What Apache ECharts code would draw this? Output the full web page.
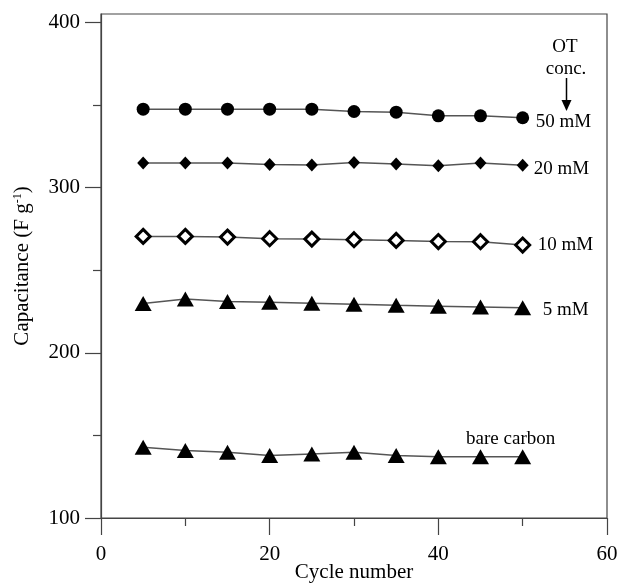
<!DOCTYPE html>
<html>
<head>
<meta charset="utf-8">
<script src="https://cdn.jsdelivr.net/npm/echarts@6/dist/echarts.min.js"></script>
</head>
<body style="margin:0">
<div id="main" style="width:618px;height:583px"></div>
<script>
// cycle numbers
var cycles = [5, 10, 15, 20, 25, 30, 35, 40, 45, 50];
// capacitance (F g-1) for each OT concentration
var cap50 = [347.4, 347.4, 347.4, 347.4, 347.4, 346, 345.6, 343.4, 343.4, 342.2];
var cap20 = [314.9, 314.9, 314.9, 313.9, 313.6, 315.1, 314.2, 313.1, 314.8, 313.5];
var cap10 = [270.4, 270.4, 270, 269, 268.8, 268.4, 268, 267.3, 267.2, 265.2];
var cap5 = [229.8, 232.5, 231, 230.5, 230, 229.3, 228.7, 228.2, 227.7, 227.3];
var capBare = [142.8, 140.8, 139.8, 137.8, 138.8, 139.8, 137.8, 137.1, 137.1, 137.1];
var yMajor = [100, 200, 300, 400];
var yMinor = [150, 250, 350];

var FONT = '"Liberation Serif", "DejaVu Serif", serif';
var myChart = echarts.init(document.getElementById('main'));

function pairs(vals) {
  return cycles.map(function (c, i) { return [c, vals[i]]; });
}

// put a text label on the last point of a series
function withEndLabel(vals, text, pos, offset) {
  var d = pairs(vals);
  var last = d.length - 1;
  d[last] = {
    value: d[last],
    label: {
      show: true, position: pos, formatter: text, offset: offset,
      color: '#000', fontFamily: FONT, fontSize: 19
    }
  };
  return d;
}

function mkSeries(data, symbol, size, style) {
  return {
    type: 'line',
    data: data,
    symbol: symbol,
    symbolSize: size,
    lineStyle: { color: '#555', width: 1.5 },
    itemStyle: style || { color: '#000' },
    animation: false,
    z: 3
  };
}

var axisCol = '#444';

var option = {
  backgroundColor: '#fff',
  grid: {
    left: 101, right: 11, top: 14, bottom: 65,
    outerBoundsMode: 'none', containLabel: false,
    show: true, borderColor: axisCol, borderWidth: 1.2, backgroundColor: 'transparent'
  },
  xAxis: {
    type: 'value', min: 0, max: 60, interval: 20,
    name: 'Cycle number', nameLocation: 'middle', nameGap: 44, nameMoveOverlap: false,
    nameTextStyle: { fontFamily: FONT, fontSize: 21, color: '#000' },
    axisLine: { lineStyle: { color: axisCol, width: 1.2 } },
    axisTick: { inside: false, length: 17, lineStyle: { color: axisCol, width: 1.2 } },
    minorTick: { show: true, splitNumber: 2, length: 8, lineStyle: { color: axisCol, width: 1.2 } },
    axisLabel: { fontFamily: FONT, fontSize: 21, color: '#000', margin: 26 },
    splitLine: { show: false }
  },
  yAxis: [{
    type: 'value', min: 100, max: 405,
    name: '{n|Capacitance (F g}{s|-1}{n|)}', nameLocation: 'middle', nameGap: 68, nameMoveOverlap: false,
    nameTextStyle: {
      fontFamily: FONT, fontSize: 21, color: '#000',
      rich: {
        n: { fontFamily: FONT, fontSize: 21, color: '#000' },
        s: { fontFamily: FONT, fontSize: 12, color: '#000', verticalAlign: 'top', padding: [0, 0, 9, 0] }
      }
    },
    axisLine: { lineStyle: { color: axisCol, width: 1.2 } },
    axisTick: { inside: false, length: 16, customValues: yMajor, lineStyle: { color: axisCol, width: 1.2 } },
    axisLabel: { fontFamily: FONT, fontSize: 21, color: '#000', margin: 21, customValues: yMajor },
    splitLine: { show: false }
  }, {
    // minor ticks only
    type: 'value', min: 100, max: 405, position: 'left',
    axisLine: { show: false },
    axisTick: { inside: false, length: 8, customValues: yMinor, lineStyle: { color: axisCol, width: 1.2 } },
    axisLabel: { show: false },
    splitLine: { show: false }
  }],
  graphic: [
    { type: 'text', x: 565, y: 47, style: { text: 'OT', font: '19px ' + FONT, fill: '#000', textAlign: 'center', textVerticalAlign: 'middle' } },
    { type: 'text', x: 566, y: 69, style: { text: 'conc.', font: '19px ' + FONT, fill: '#000', textAlign: 'center', textVerticalAlign: 'middle' } },
    { type: 'line', shape: { x1: 566.5, y1: 78, x2: 566.5, y2: 101 }, style: { stroke: '#000', lineWidth: 1.5 } },
    { type: 'polygon', shape: { points: [[561.5, 100], [571.5, 100], [566.5, 111]] }, style: { fill: '#000' } }
  ],
  series: [
    mkSeries(withEndLabel(cap50, '50 mM', 'right', [1.5, 4]), 'circle', 13),
    mkSeries(withEndLabel(cap20, '20 mM', 'right', [0, 3.4]), 'diamond', [12, 13]),
    mkSeries(withEndLabel(cap10, '10 mM', 'right', [1.5, 0]), 'diamond',
      [14, 14], { color: '#fff', borderColor: '#000', borderWidth: 3 }),
    mkSeries(withEndLabel(cap5, '5 mM', 'right', [6.5, 2.6]), 'triangle', [17, 15]),
    mkSeries(withEndLabel(capBare, 'bare carbon', 'top', [-12, 4]), 'triangle', [17, 15])
  ]
};
myChart.setOption(option);
</script>
</body>
</html>
